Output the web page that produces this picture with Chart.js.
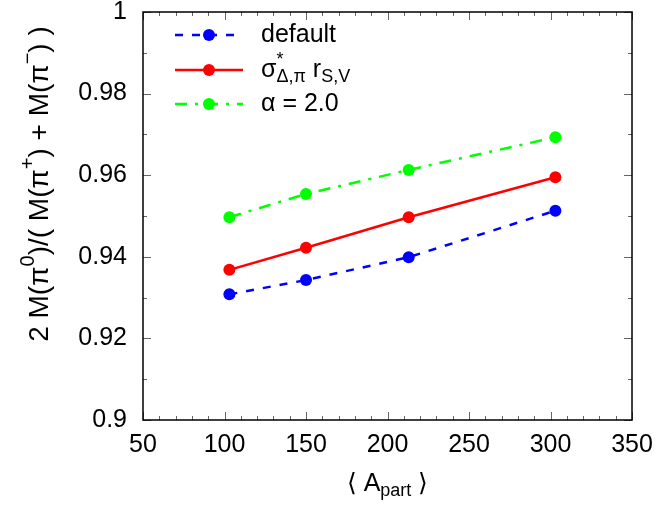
<!DOCTYPE html>
<html>
<head>
<meta charset="utf-8">
<script src="https://cdn.jsdelivr.net/npm/chart.js@4/dist/chart.umd.min.js"></script>
<style>
  html, body { margin: 0; padding: 0; background: #fff; }
  #wrap { width: 660px; height: 507px; }
</style>
</head>
<body>
<div id="wrap"><canvas id="chart" width="660" height="507"></canvas></div>
<script>
// data
const apart = [103, 150, 213, 303];
const defaultVals = [0.9308, 0.9343, 0.9399, 0.9513];
const sigmaVals = [0.9368, 0.9422, 0.9497, 0.9595];
const alphaVals = [0.9497, 0.9554, 0.9613, 0.9693];

const xMin = 50, xMax = 350, xStep = 50, xMinor = 10;
const yMin = 0.9, yMax = 1.0, yStep = 0.02, yMinor = 0.01;

const FONT = '"Liberation Sans", Arial, Helvetica, sans-serif';
const SIZE = 25;

const seriesNames = ['default', 'sigma', 'alpha'];
const seriesColors = ['#0000ff', '#ff0000', '#00ff00'];
const seriesDash = [[8, 9], [], [12, 8, 3, 8]];

function pts(vals) {
    return vals.map((v, i) => ({ x: apart[i], y: v }));
}

// text made of pieces: n = normal, sup / sub = raised / lowered and smaller
function setFont(ctx, size, small) {
    ctx.font = Math.round(small ? size * 0.72 : size) + 'px ' + FONT;
}

function drawRich(ctx, parts, x, y, size, measureOnly) {
    let cx = x;
    parts.forEach(p => {
        if (p.m === 'stack') {
            setFont(ctx, size, true);
            const w1 = ctx.measureText(p.sup).width;
            const w2 = ctx.measureText(p.sub).width;
            if (!measureOnly) {
                ctx.fillText(p.sup, cx, y - size * 0.38);
                ctx.fillText(p.sub, cx, y + size * 0.28);
            }
            cx += Math.max(w1, w2);
            return;
        }
        setFont(ctx, size, p.m !== 'n');
        let dy = 0;
        if (p.m === 'sup') dy = -size * 0.4;
        if (p.m === 'sub') dy = size * 0.28;
        if (!measureOnly) ctx.fillText(p.t, cx, y + dy);
        cx += ctx.measureText(p.t).width;
    });
    return cx - x;
}

const legendLabels = [
    [{ m: 'n', t: 'default' }],
    [{ m: 'n', t: 'σ' }, { m: 'stack', sup: '*', sub: 'Δ,π' }, { m: 'n', t: ' r' }, { m: 'sub', t: 'S,V' }],
    [{ m: 'n', t: 'α = 2.0' }]
];

const yTitle = [
    { m: 'n', t: '2 M(π' }, { m: 'sup', t: '0' }, { m: 'n', t: ')/( M(π' }, { m: 'sup', t: '+' },
    { m: 'n', t: ') + M(π' }, { m: 'sup', t: '−' }, { m: 'n', t: ') )' }
];
const xTitle = [{ m: 'n', t: '⟨ A' }, { m: 'sub', t: 'part' }, { m: 'n', t: ' ⟩' }];

const framePlugin = {
    id: 'frame',
    afterDraw(chart) {
        const ctx = chart.ctx;
        const a = chart.chartArea;
        const xs = chart.scales.x, ys = chart.scales.y;
        ctx.save();
        ctx.lineWidth = 1;
        ctx.strokeStyle = '#666';
        // minor and major ticks on all four sides, pointing inward
        for (let v = xMin; v <= xMax + 1e-9; v += xMinor) {
            const px = Math.round(xs.getPixelForValue(v)) + 0.5;
            const len = (Math.abs(v % xStep) < 1e-6) ? 8 : 4;
            ctx.beginPath();
            ctx.moveTo(px, a.bottom); ctx.lineTo(px, a.bottom - len);
            ctx.moveTo(px, a.top); ctx.lineTo(px, a.top + len);
            ctx.stroke();
        }
        for (let i = 0; i <= Math.round((yMax - yMin) / yMinor); i++) {
            const py = Math.round(ys.getPixelForValue(yMin + i * yMinor)) + 0.5;
            const len = (i % 2 === 0) ? 8 : 4;
            ctx.beginPath();
            ctx.moveTo(a.left, py); ctx.lineTo(a.left + len, py);
            ctx.moveTo(a.right, py); ctx.lineTo(a.right - len, py);
            ctx.stroke();
        }
        ctx.strokeStyle = '#000';
        ctx.lineWidth = 1.5;
        ctx.strokeRect(a.left, a.top, a.right - a.left, a.bottom - a.top);

        // legend
        ctx.textBaseline = 'middle';
        ctx.textAlign = 'left';
        const rows = [35, 70, 104];
        seriesNames.forEach((n, i) => {
            const y = rows[i];
            ctx.strokeStyle = seriesColors[i];
            ctx.lineWidth = 2.5;
            ctx.setLineDash(seriesDash[i]);
            ctx.beginPath();
            ctx.moveTo(175, y); ctx.lineTo(243, y);
            ctx.stroke();
            ctx.setLineDash([]);
            ctx.fillStyle = seriesColors[i];
            ctx.beginPath();
            ctx.arc(209, y, 6, 0, Math.PI * 2);
            ctx.fill();
            ctx.fillStyle = '#000';
            drawRich(ctx, legendLabels[i], 261, y, SIZE);
        });

        // axis titles
        const xw = drawRich(ctx, xTitle, 0, 0, SIZE, true);
        drawRich(ctx, xTitle, (a.left + a.right) / 2 - xw / 2, 484, SIZE);

        ctx.translate(40, 184);
        ctx.rotate(-Math.PI / 2);
        const ySize = 28;
        const yw = drawRich(ctx, yTitle, 0, 0, ySize, true);
        drawRich(ctx, yTitle, -yw / 2, 0, ySize);
        ctx.restore();
    }
};

const datasets = [defaultVals, sigmaVals, alphaVals].map((vals, i) => ({
    label: seriesNames[i],
    data: pts(vals),
    borderColor: seriesColors[i],
    backgroundColor: seriesColors[i],
    borderWidth: 2.5,
    borderDash: seriesDash[i],
    pointRadius: 6,
    pointHoverRadius: 6,
    pointBorderWidth: 0,
    tension: 0
}));

new Chart(document.getElementById('chart'), {
    type: 'line',
    data: { datasets: datasets },
    options: {
        responsive: false,
        animation: false,
        layout: { padding: { left: 0, right: 28, top: 12, bottom: 0 } },
        plugins: { legend: { display: false }, tooltip: { enabled: false } },
        scales: {
            x: {
                type: 'linear',
                min: xMin,
                max: xMax,
                border: { display: false },
                grid: { display: false, drawTicks: false },
                ticks: {
                    stepSize: xStep,
                    padding: 10,
                    color: '#000',
                    maxRotation: 0,
                    font: { family: FONT, size: SIZE }
                },
                afterFit(scale) {
                    scale.height = 87;
                    scale.paddingLeft = 0;
                    scale.paddingRight = 0;
                }
            },
            y: {
                type: 'linear',
                min: yMin,
                max: yMax,
                border: { display: false },
                grid: { display: false, drawTicks: false },
                ticks: {
                    stepSize: yStep,
                    padding: 16,
                    color: '#000',
                    font: { family: FONT, size: SIZE },
                    callback: v => String(Number(v.toFixed(2)))
                },
                afterFit(scale) {
                    scale.width = 143;
                    scale.paddingTop = 0;
                    scale.paddingBottom = 0;
                }
            }
        }
    },
    plugins: [framePlugin]
});
</script>
</body>
</html>
